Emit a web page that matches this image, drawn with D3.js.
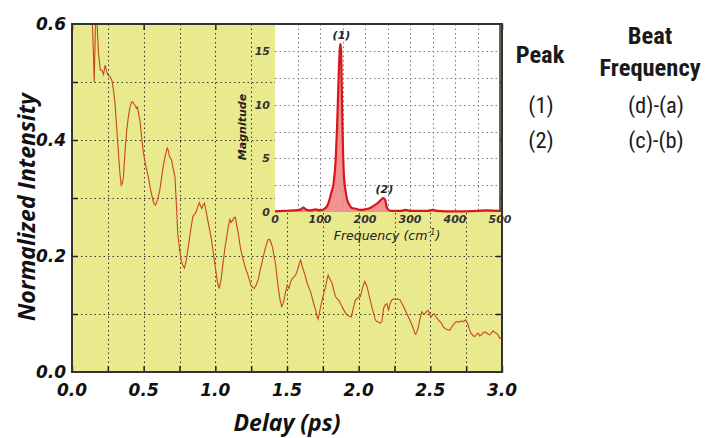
<!DOCTYPE html>
<html><head><meta charset="utf-8">
<script src="https://cdn.jsdelivr.net/npm/d3@7"></script>
<style>
html,body{margin:0;padding:0;background:#fff;}
svg{display:block;}
</style></head>
<body>
<svg id="chart" width="706" height="438"></svg>
<script>
// ---- Main trace: delay (ps) vs normalized intensity ----
const delay = [0.139,0.148,0.155,0.162,0.167,0.175,0.185,0.197,0.21,0.22,0.231,0.24,0.25,0.266,0.278,0.29,0.30,0.312,0.324,0.335,0.343,0.351,0.359,0.37,0.382,0.393,0.405,0.415,0.424,0.432,0.44,0.448,0.456,0.465,0.474,0.486,0.498,0.515,0.532,0.55,0.567,0.575,0.583,0.598,0.613,0.625,0.636,0.65,0.664,0.672,0.68,0.694,0.705,0.718,0.728,0.738,0.75,0.762,0.774,0.785,0.797,0.808,0.825,0.843,0.855,0.866,0.878,0.889,0.897,0.905,0.914,0.924,0.935,0.947,0.958,0.97,0.982,0.993,1.005,1.016,1.028,1.04,1.051,1.065,1.079,1.09,1.102,1.11,1.12,1.13,1.139,1.15,1.16,1.17,1.178,1.19,1.201,1.212,1.224,1.236,1.248,1.26,1.271,1.285,1.301,1.315,1.329,1.345,1.363,1.37,1.38,1.39,1.398,1.41,1.421,1.432,1.444,1.455,1.463,1.471,1.479,1.49,1.502,1.514,1.525,1.537,1.548,1.56,1.57,1.578,1.587,1.595,1.605,1.618,1.63,1.641,1.653,1.665,1.682,1.699,1.708,1.717,1.731,1.745,1.757,1.769,1.778,1.787,1.8,1.815,1.826,1.838,1.85,1.861,1.872,1.884,1.9,1.919,1.935,1.949,1.963,1.977,1.995,2.012,2.027,2.042,2.05,2.058,2.07,2.081,2.092,2.104,2.116,2.127,2.14,2.15,2.162,2.174,2.186,2.197,2.208,2.22,2.231,2.243,2.255,2.27,2.29,2.302,2.313,2.33,2.347,2.365,2.382,2.39,2.398,2.407,2.417,2.428,2.44,2.452,2.463,2.475,2.486,2.495,2.505,2.517,2.528,2.542,2.556,2.567,2.578,2.59,2.602,2.62,2.637,2.648,2.66,2.672,2.683,2.7,2.718,2.732,2.745,2.755,2.764,2.773,2.783,2.797,2.81,2.822,2.833,2.845,2.856,2.87,2.884,2.9,2.915,2.927,2.938,2.95,2.96,2.972,2.984,3.0];
const intensity = [0.62,0.56,0.50,0.58,0.64,0.60,0.55,0.521,0.52,0.513,0.529,0.52,0.512,0.509,0.503,0.485,0.464,0.42,0.378,0.34,0.322,0.325,0.337,0.38,0.417,0.44,0.457,0.465,0.466,0.462,0.46,0.455,0.457,0.445,0.434,0.405,0.378,0.355,0.337,0.312,0.294,0.289,0.288,0.298,0.314,0.335,0.354,0.372,0.386,0.382,0.372,0.366,0.352,0.337,0.29,0.239,0.212,0.193,0.183,0.179,0.192,0.210,0.24,0.268,0.272,0.276,0.285,0.292,0.286,0.282,0.288,0.291,0.278,0.262,0.248,0.233,0.213,0.193,0.172,0.153,0.144,0.16,0.182,0.21,0.233,0.25,0.263,0.258,0.261,0.266,0.267,0.252,0.239,0.222,0.210,0.198,0.187,0.178,0.170,0.16,0.150,0.146,0.144,0.15,0.161,0.178,0.193,0.21,0.225,0.229,0.228,0.222,0.216,0.2,0.184,0.16,0.136,0.12,0.113,0.117,0.124,0.138,0.150,0.144,0.155,0.161,0.164,0.167,0.174,0.179,0.188,0.193,0.183,0.173,0.163,0.153,0.145,0.138,0.122,0.107,0.097,0.091,0.108,0.124,0.136,0.147,0.158,0.167,0.16,0.153,0.141,0.130,0.126,0.124,0.118,0.113,0.105,0.098,0.096,0.095,0.11,0.124,0.128,0.130,0.145,0.156,0.152,0.147,0.135,0.124,0.112,0.101,0.09,0.087,0.086,0.084,0.087,0.110,0.116,0.118,0.107,0.118,0.124,0.126,0.125,0.126,0.124,0.118,0.113,0.104,0.095,0.085,0.075,0.068,0.065,0.07,0.078,0.092,0.104,0.1,0.101,0.105,0.106,0.1,0.095,0.099,0.100,0.094,0.090,0.087,0.084,0.078,0.075,0.073,0.072,0.077,0.081,0.085,0.087,0.086,0.088,0.087,0.090,0.086,0.081,0.073,0.067,0.063,0.061,0.065,0.067,0.062,0.064,0.068,0.069,0.066,0.064,0.068,0.071,0.068,0.067,0.064,0.058,0.06];

// ---- Inset: Fourier spectrum ----
const frequency = [0,20,40,55,63,70,80,90,100,110,115,120,125,130,135,138,141,144,145.5,147,149,151,153,156,160,165,170,180,190,200,210,220,230,237,241,245,248,252,260,280,290,300,320,340,350,360,400,450,470,500];
const magnitude = [0.05,0.1,0.15,0.2,0.4,0.2,0.15,0.25,0.15,0.3,0.5,1.0,1.8,2.6,5,8,12,15.2,15.7,15,10,6,3.5,2.2,1.2,0.7,0.4,0.3,0.2,0.25,0.35,0.6,0.9,1.2,1.3,1.1,0.5,0.2,0.1,0.1,0.2,0.1,0.1,0.1,0.2,0.1,0.05,0.1,0.15,0.1];
const peakLabels = [{f:145.5, m:15.7, t:"(1)"},{f:241, m:1.3, t:"(2)"}];

// ---- Ticks & labels ----
const xTicks = [0,0.5,1.0,1.5,2.0,2.5,3.0];
const xGrid = [0.25,0.5,0.75,1.0,1.25,1.5,1.75,2.0,2.25,2.5,2.75];
const yTicks = [0,0.2,0.4,0.6];
const yGrid = [0.1,0.2,0.3,0.4,0.5];
const insetXTicks = [0,100,200,300,400,500];
const insetXGrid = [50,100,150,200,250,300,350,400,450];
const insetYTicks = [0,5,10,15];
const insetYGrid = [2.5,5,7.5,10,12.5,15];
const tableHeader = ["Peak","Beat","Frequency"];
const tablePeaks = ["(1)","(2)"];
const tableBeats = ["(d)-(a)","(c)-(b)"];

const svg = d3.select("#chart");
const M = {l:72, r:502, t:24, b:372};
const x = d3.scaleLinear().domain([0,3]).range([M.l, M.r]);
const y = d3.scaleLinear().domain([0,0.6]).range([M.b, M.t]);

const bold = "'DejaVu Sans', Verdana, sans-serif";

// background
svg.append("rect").attr("x",M.l).attr("y",M.t).attr("width",M.r-M.l).attr("height",M.b-M.t).attr("fill","#e9e98d");

// grid
const grid = svg.append("g").attr("stroke","#333").attr("stroke-width",1).attr("stroke-dasharray","1.5,3");
grid.selectAll(".gx").data(xGrid).join("line").attr("x1",d=>Math.round(x(d))+0.5).attr("x2",d=>Math.round(x(d))+0.5).attr("y1",M.t).attr("y2",M.b);
grid.selectAll(".gy").data(yGrid).join("line").attr("y1",d=>Math.round(y(d))+0.5).attr("y2",d=>Math.round(y(d))+0.5).attr("x1",M.l).attr("x2",M.r);

// clip
svg.append("clipPath").attr("id","clipMain").append("rect").attr("x",M.l).attr("y",M.t).attr("width",M.r-M.l).attr("height",M.b-M.t);

const line = d3.line().x((d,i)=>x(delay[i])).y((d,i)=>y(intensity[i]));
svg.append("path").datum(intensity).attr("d",line).attr("fill","none").attr("stroke","#c8471f").attr("stroke-width",1.1).attr("clip-path","url(#clipMain)");

// axes (inward ticks)
const axG = svg.append("g");
axG.append("g").attr("transform",`translate(0,${M.b})`).call(d3.axisTop(x).tickValues(xGrid.concat([0,3])).tickSize(6).tickFormat(""));
axG.append("g").attr("transform",`translate(0,${M.t})`).call(d3.axisBottom(x).tickValues(xTicks).tickSize(6).tickFormat(""));
axG.append("g").attr("transform",`translate(${M.l},0)`).call(d3.axisRight(y).tickValues(yGrid).tickSize(6).tickFormat(""));
axG.append("g").attr("transform",`translate(${M.r},0)`).call(d3.axisLeft(y).tickValues(yGrid).tickSize(6).tickFormat(""));
axG.selectAll(".domain").remove();
axG.selectAll("line").attr("stroke","#222").attr("stroke-width",1.5);
svg.append("rect").attr("x",M.l).attr("y",M.t).attr("width",M.r-M.l).attr("height",M.b-M.t).attr("fill","none").attr("stroke","#333").attr("stroke-width",2);

// tick labels
svg.selectAll(".xl").data(xTicks).join("text").attr("x",d=>x(d)).attr("y",396)
  .attr("text-anchor","middle").attr("font-family",bold).attr("font-weight","bold").attr("font-style","italic")
  .attr("font-size",17).attr("fill","#111").text(d=>d.toFixed(1));
svg.selectAll(".yl").data(yTicks).join("text").attr("x",M.l-6).attr("y",d=>y(d)+6)
  .attr("text-anchor","end").attr("font-family",bold).attr("font-weight","bold").attr("font-style","italic")
  .attr("font-size",17).attr("fill","#111").text(d=>d.toFixed(1));

svg.append("text").attr("x",287).attr("y",431).attr("text-anchor","middle").attr("font-family","'Open Sans', sans-serif")
  .attr("font-weight",700).attr("font-style","italic").attr("font-size",23).attr("fill","#111").text("Delay (ps)");
svg.append("text").attr("transform","translate(35,207) rotate(-90)").attr("text-anchor","middle").attr("font-family","'Open Sans', sans-serif")
  .attr("font-weight",700).attr("font-style","italic").attr("font-size",23).attr("fill","#111").text("Normalized Intensity");

// ---- Inset ----
const I = {l:275, r:500, t:24, b:212};
const fx = d3.scaleLinear().domain([0,500]).range([I.l, I.r]);
const fy = d3.scaleLinear().domain([0,17.55]).range([I.b, I.t]);
svg.append("rect").attr("x",I.l).attr("y",I.t).attr("width",I.r-I.l).attr("height",I.b-I.t).attr("fill","#fff");
const ig = svg.append("g").attr("stroke","#777").attr("stroke-width",1).attr("stroke-dasharray","1.5,3");
ig.selectAll(".ix").data(insetXGrid).join("line").attr("x1",d=>Math.round(fx(d))+0.5).attr("x2",d=>Math.round(fx(d))+0.5).attr("y1",I.t).attr("y2",I.b);
ig.selectAll(".iy").data(insetYGrid).join("line").attr("y1",d=>Math.round(fy(d))+0.5).attr("y2",d=>Math.round(fy(d))+0.5).attr("x1",I.l).attr("x2",I.r);

const area = d3.area().x((d,i)=>fx(frequency[i])).y0(fy(0)).y1((d,i)=>fy(magnitude[i])).curve(d3.curveMonotoneX);
const sline = d3.line().x((d,i)=>fx(frequency[i])).y((d,i)=>fy(magnitude[i])).curve(d3.curveMonotoneX);
svg.append("path").datum(magnitude).attr("d",area).attr("fill","#ef8080").attr("opacity",0.85);
svg.append("path").datum(magnitude).attr("d",sline).attr("fill","none").attr("stroke","#d8161b").attr("stroke-width",2.2);

svg.append("line").attr("x1",I.l).attr("x2",I.r).attr("y1",I.t).attr("y2",I.t).attr("stroke","#333").attr("stroke-width",2);
svg.append("line").attr("x1",I.r).attr("x2",I.r).attr("y1",I.t).attr("y2",I.b).attr("stroke","#333").attr("stroke-width",1.5);

const itxt = "'DejaVu Sans', Verdana, sans-serif";
svg.selectAll(".pl").data(peakLabels).join("text").attr("x",d=>fx(d.f)+1).attr("y",d=>fy(d.m)-5)
  .attr("text-anchor","middle").attr("font-family",itxt).attr("font-style","italic").attr("font-weight","bold")
  .attr("font-size",11).attr("fill","#222").text(d=>d.t);
svg.selectAll(".ixl").data(insetXTicks).join("text").attr("x",d=>fx(d)).attr("y",223)
  .attr("text-anchor","middle").attr("font-family",itxt).attr("font-style","italic").attr("font-weight","bold")
  .attr("font-size",11).attr("fill","#333").text(d=>d);
svg.selectAll(".iyl").data(insetYTicks).join("text").attr("x",270).attr("y",d=>fy(d)+4)
  .attr("text-anchor","end").attr("font-family",itxt).attr("font-style","italic").attr("font-weight","bold")
  .attr("font-size",11).attr("fill","#333").text(d=>d);
const ft = svg.append("text").attr("x",387).attr("y",240).attr("text-anchor","middle").attr("font-family",itxt)
  .attr("font-style","italic").attr("font-size",12.5).attr("fill","#222");
ft.append("tspan").text("Frequency (cm");
ft.append("tspan").attr("dy",-5).attr("font-size",8).text("-1");
ft.append("tspan").attr("dy",5).text(")");
svg.append("text").attr("transform","translate(246,127) rotate(-90)").attr("text-anchor","middle").attr("font-family",itxt)
  .attr("font-style","italic").attr("font-weight","bold").attr("font-size",11).attr("fill","#222").text("Magnitude");

// ---- Right table ----
const cf = "'Roboto Condensed', Roboto, sans-serif";
const tg = svg.append("g").attr("font-family",cf).attr("fill","#1a1a1a").attr("text-anchor","middle");
tg.append("text").attr("x",540).attr("y",63).attr("font-size",24.5).attr("font-weight","bold").text(tableHeader[0]);
tg.append("text").attr("x",650).attr("y",44).attr("font-size",24.5).attr("font-weight","bold").text(tableHeader[1]);
tg.append("text").attr("x",650).attr("y",76).attr("font-size",24.5).attr("font-weight","bold").text(tableHeader[2]);
tg.selectAll(".tp").data(tablePeaks).join("text").attr("x",541).attr("y",(d,i)=>113+i*35).attr("font-size",22.5).text(d=>d);
tg.selectAll(".tb").data(tableBeats).join("text").attr("x",656).attr("y",(d,i)=>113+i*35).attr("font-size",22.5).text(d=>d);
</script>
</body></html>
